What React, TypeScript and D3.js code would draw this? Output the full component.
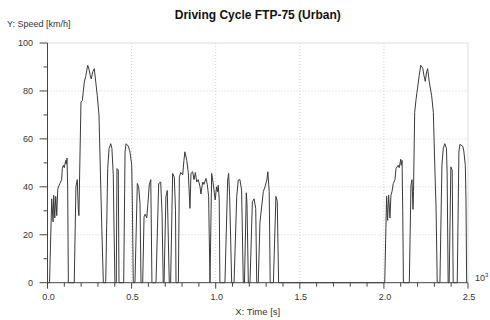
import React from "react";
import * as d3 from "d3";

// ---- data: time [s], speed [km/h] ----
const coldTime = [0, 12, 25, 33, 37, 43, 49, 55, 61, 68, 74, 84, 88, 94, 100, 108, 112, 116, 120, 124,
  159, 169, 174, 177, 183, 187, 191, 199, 207, 213, 219, 227, 239, 245, 254, 260, 269, 278, 287, 296, 306, 315, 322, 332,
  346, 358, 366, 376, 383, 391, 395, 401, 409, 413, 421, 425, 453, 461, 467, 480, 489, 501, 505, 510];
const coldSpeed = [0, 0, 35, 25.4, 36.5, 27, 36, 28, 39, 40.5, 41.4, 43, 47.6, 49, 48, 51, 49.5, 52, 40, 0,
  0, 40, 42, 43, 31, 28, 45, 75.4, 76, 80, 83.7, 86, 90.7, 89.5, 86.5, 85, 88, 89.3, 83.7, 78, 70, 45, 25, 0,
  0, 47.7, 56, 58, 56, 45, 25, 0, 0, 47.6, 47, 0, 0, 54.6, 58, 57, 55, 49, 30, 0];

const transTime = [520, 534, 542, 550, 556, 566, 574, 581, 590, 597, 605, 614, 621,
  645, 661, 673, 681, 688, 693, 704, 712, 716, 724, 732, 744, 754, 761, 764,
  778, 784, 792, 804, 811, 817, 828, 837, 847, 853, 863, 871, 879, 887, 896, 907, 912, 923, 930, 942, 950, 958, 966,
  976, 984, 997, 1005, 1011, 1015, 1021, 1025, 1055, 1071, 1077, 1083, 1095,
  1109, 1125, 1134, 1144, 1154, 1164, 1171, 1182, 1186, 1194, 1204, 1218, 1228, 1238, 1244,
  1253, 1263, 1283, 1293, 1304, 1310, 1318, 1324, 1343, 1358, 1366, 1374, 2005];
const transSpeed = [0, 41.4, 40, 33, 0, 0, 27.5, 28.6, 27, 33, 40.8, 43, 0,
  0, 41.4, 42, 29, 0, 0, 35.8, 38.5, 26, 0, 0, 45.6, 44, 30, 0,
  0, 44, 46, 45, 51, 54.6, 51, 46, 31, 45.6, 46.3, 43, 46, 42, 43, 40, 37, 42, 41, 43.5, 41, 36, 0,
  45.6, 42, 34.5, 40, 38, 40.7, 35, 0, 0, 42.8, 45.6, 36, 0,
  0, 36, 42.8, 43, 38.6, 0, 0, 37.5, 33, 0, 0, 33.8, 35, 31, 0,
  0, 25, 38, 40, 42.8, 46.3, 38, 0, 0, 36, 34, 0, 0];

const hotTime = [2012, 2016, 2022, 2028, 2036, 2042, 2048, 2056, 2066, 2072, 2085, 2091, 2100, 2103, 2108, 2112, 2116,
  2151, 2161, 2167, 2173, 2176, 2183, 2191, 2201, 2210, 2219, 2231, 2238, 2246, 2254, 2260, 2270, 2284, 2294, 2304, 2310, 2317,
  2333, 2345, 2353, 2362, 2372, 2376, 2382, 2388, 2398, 2406, 2412, 2436, 2446, 2452, 2468, 2475, 2484, 2488, 2492];
const hotSpeed = [23, 36, 26, 36.5, 27, 36.5, 38, 41.4, 43, 47.6, 49, 48, 51.5, 49, 51, 30, 0,
  0, 40.7, 43, 30.6, 38, 71, 76.4, 81.7, 86.5, 90.7, 89.5, 86.5, 84, 88, 89.3, 83.6, 78, 71, 45, 32, 0,
  0, 49, 56, 58, 56, 45, 0, 0, 48.3, 47, 0, 0, 54.6, 57.7, 57, 55, 49, 35, 0];

const xMajorTicks = [0, 500, 1000, 1500, 2000, 2500];
const xTickLabels = ["0.0", "0.5", "1.0", "1.5", "2.0", "2.5"];
const yMajorTicks = [0, 20, 40, 60, 80, 100];

const W = 490, H = 320;
const L = 47.5, R = 468, T = 43, B = 282.7;

export default function App() {
  const x = d3.scaleLinear().domain([0, 2500]).range([L, R]);
  const y = d3.scaleLinear().domain([0, 100]).range([B, T]);
  const times = [...coldTime, ...transTime, ...hotTime];
  const speeds = [...coldSpeed, ...transSpeed, ...hotSpeed];
  const pts: [number, number][] = times.map((t, i) => [t, speeds[i]]);
  const line = d3.line<[number, number]>().x(d => x(d[0])).y(d => y(d[1]));
  const xMinor = d3.range(0, 2501, 100);
  const yMinor = d3.range(0, 101, 10);
  const font = "'Liberation Sans', Arial, sans-serif";
  return (
    <svg width={W} height={H} style={{ position: "absolute", left: 0, top: 0, background: "#fff" }} fontFamily={font}>
      {/* grid */}
      {xMajorTicks.slice(1, -1).map(t => (
        <line key={"gx" + t} x1={x(t)} x2={x(t)} y1={T} y2={B} stroke="#d0d0d0" strokeDasharray="1,2" />
      ))}
      {yMajorTicks.slice(1, -1).map(v => (
        <line key={"gy" + v} x1={L} x2={R} y1={y(v)} y2={y(v)} stroke="#d0d0d0" strokeDasharray="1,2" />
      ))}
      {/* frame */}
      <line x1={L} x2={R} y1={T} y2={T} stroke="#dcdcdc" />
      <line x1={R} x2={R} y1={T} y2={B} stroke="#dcdcdc" />
      {/* trace */}
      <path d={line(pts) || ""} fill="none" stroke="#3a3a3a" strokeWidth={1} strokeLinejoin="round" />
      {/* axes */}
      <line x1={L} x2={L} y1={T} y2={B} stroke="#444" />
      <line x1={L} x2={R} y1={B} y2={B} stroke="#444" />
      {yMinor.map(v => (
        <line key={"ym" + v} x1={v % 20 === 0 ? L - 8 : L - 4} x2={L} y1={y(v)} y2={y(v)} stroke="#444" />
      ))}
      {xMinor.map(t => (
        <line key={"xm" + t} x1={x(t)} x2={x(t)} y1={B} y2={t % 500 === 0 ? B + 6 : B + 4} stroke="#444" />
      ))}
      {yMajorTicks.map(v => (
        <text key={"yl" + v} x={33} y={y(v)} dy="0.35em" textAnchor="end" fontSize={9} fill="#333">{v}</text>
      ))}
      {xMajorTicks.map((t, i) => (
        <text key={"xl" + t} x={x(t) + 1} y={300} textAnchor="middle" fontSize={9} fill="#333">{xTickLabels[i]}</text>
      ))}
      <text x={475} y={281} fontSize={9} fill="#333">10<tspan dy={-4} fontSize={6}>3</tspan></text>
      <text x={7} y={27} fontSize={9} fill="#333">Y: Speed [km/h]</text>
      <text x={(L + R) / 2} y={315} textAnchor="middle" fontSize={9.5} fill="#333">X: Time [s]</text>
      <text x={(L + R) / 2} y={19} textAnchor="middle" fontSize={12} fontWeight="bold" fill="#111">Driving Cycle FTP-75 (Urban)</text>
    </svg>
  );
}
